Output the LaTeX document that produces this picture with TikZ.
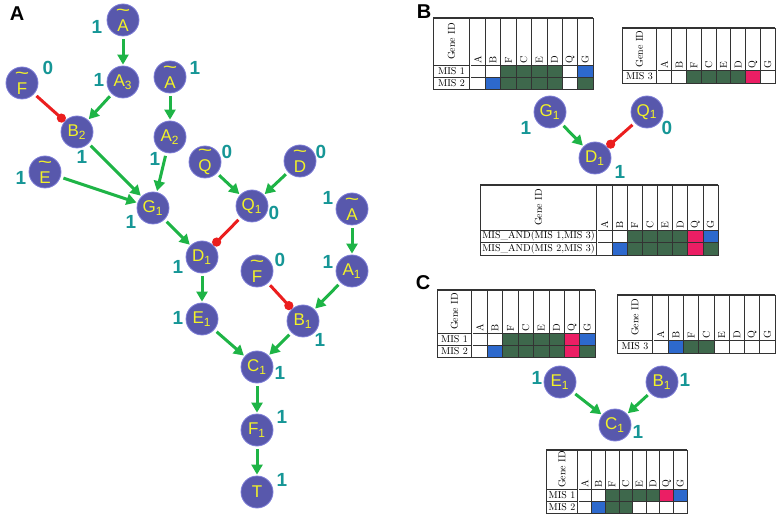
\documentclass[tikz,border=0pt]{standalone}
\usepackage{fontspec}
\setsansfont{Liberation Sans}
\newfontfamily\tabfont{lmroman10-regular}[Extension=.otf]
\usepackage{graphicx}
\usepackage{tikz}
\usetikzlibrary{arrows.meta}

\definecolor{genefill}{RGB}{88,88,172}
\definecolor{geneedge}{RGB}{125,125,215}
\definecolor{genetext}{RGB}{242,242,40}
\definecolor{valteal}{RGB}{22,150,150}
\definecolor{actgreen}{RGB}{30,180,70}
\definecolor{inhred}{RGB}{235,30,30}
\definecolor{tw}{RGB}{255,255,255}
\definecolor{tg}{RGB}{62,104,76}
\definecolor{tb}{RGB}{45,105,205}
\definecolor{tr}{RGB}{235,30,100}

\newsavebox{\tlbox}
\newcommand{\wtl}[1]{\sbox{\tlbox}{#1}\makebox[0pt][l]{\makebox[\wd\tlbox]{\raisebox{0.9em}{\scalebox{1.45}[1.1]{\textasciitilde}}}}\usebox{\tlbox}}
\newcommand{\andone}{MIS\_AND(MIS 1,MIS 3)}
\newcommand{\andtwo}{MIS\_AND(MIS 2,MIS 3)}

\tikzset{
	gene/.style={circle,fill=genefill,draw=geneedge,line width=0.4pt,minimum size=16pt,inner sep=0pt,text=genetext,font=\sffamily\fontsize{8.5}{9}\selectfont},
	val/.style={text=valteal,inner sep=0pt,font=\sffamily\bfseries\fontsize{9.5}{10}\selectfont},
	act/.style={draw=actgreen,line width=1.5pt,-{Triangle[length=5pt,width=5.5pt]},shorten <=1.5pt,shorten >=0.5pt},
	inh/.style={draw=inhred,line width=1.5pt,-{Circle[length=4.5pt]},shorten <=1.5pt},
	panel/.style={inner sep=0pt,font=\sffamily\bfseries\fontsize{10}{11}\selectfont},
	tabline/.style={draw=black!80,line width=0.3pt},
	tabtop/.style={draw=black!80,line width=0.9pt},
	idsep/.style={draw=black!80,line width=0.3pt,double,double distance=0.5pt},
	geneid/.style={rotate=90,inner sep=0pt,font=\tabfont\fontsize{5}{6}\selectfont},
	colid/.style={rotate=90,anchor=west,inner sep=0pt,font=\tabfont\fontsize{5}{6}\selectfont},
	rowid/.style={inner sep=0pt,font=\tabfont\fontsize{5}{6}\selectfont}
}

\newcommand{\misgrid}[8]{%
	\pgfmathsetmacro{\colw}{(#6-#4)/8}
	\draw[tabline] (#2,#3) rectangle (#6,#5);
	\node[geneid] (#1-id) at ({(#2+#4)/2},{(#3+#5)/2}) {Gene ID};
	\foreach \g [count=\i] in {A,B,F,C,E,D,Q,G} {
		\draw[tabline] ({#4+\i*\colw},#3) -- ({#4+\i*\colw},#5);
		\node[colid] (#1-\g) at ({#4+(\i-0.5)*\colw},{#5-1.5}) {\g};
	}
	\foreach \lab/\cols [count=\r] in {#8} {
		\draw[tabline] (#2,{#5+(\r-1)*#7}) rectangle (#4,{#5+\r*#7});
		\node[rowid] (#1-r\r) at ({(#2+#4)/2},{#5+(\r-0.5)*#7}) {\lab};
		\foreach \c [count=\i] in \cols
			\draw[tabline,fill=\c] ({#4+(\i-1)*\colw},{#5+(\r-1)*#7}) rectangle ++(\colw,#7);
		\draw[idsep] (#4,{#5+(\r-1)*#7}) -- (#4,{#5+\r*#7});
	}
	\draw[idsep] (#4,#3) -- (#4,#5);
	\draw[tabtop] (#2,#3) -- (#6,#3);
}

\begin{document}
\begin{tikzpicture}[x=0.5pt,y=-0.5pt]
		\useasboundingbox (0,0) rectangle (780,517);
		% A
		\node[panel] (labA) at (17,14) {A};
		\node[gene] (At1) at (123,20) {\wtl{A}};
		\node[gene] (A3) at (123,82) {A\textsubscript{3}};
		\node[gene] (Ft1) at (22,83) {\wtl{F}};
		\node[gene] (B2) at (77,132) {B\textsubscript{2}};
		\node[gene] (At2) at (170,77) {\wtl{A}};
		\node[gene] (A2) at (170,137) {A\textsubscript{2}};
		\node[gene] (Et) at (45,172) {\wtl{E}};
		\node[gene] (G1) at (153,208) {G\textsubscript{1}};
		\node[gene] (Qt) at (205,162) {\wtl{Q}};
		\node[gene] (Dt) at (300,161) {\wtl{D}};
		\node[gene] (Q1) at (252,206) {Q\textsubscript{1}};
		\node[gene] (At3) at (352,209) {\wtl{A}};
		\node[gene] (D1) at (202,257) {D\textsubscript{1}};
		\node[gene] (Ft2) at (257,271) {\wtl{F}};
		\node[gene] (A1) at (352,271) {A\textsubscript{1}};
		\node[gene] (E1) at (202,319) {E\textsubscript{1}};
		\node[gene] (B1) at (303,321) {B\textsubscript{1}};
		\node[gene] (C1) at (257,367) {C\textsubscript{1}};
		\node[gene] (F1) at (257,430) {F\textsubscript{1}};
		\node[gene] (T) at (257,492) {T};
		\node[val] (vAt1) at (97,27) {1};
		\node[val] (vA3) at (99,80) {1};
		\node[val] (vFt1) at (48,68) {0};
		\node[val] (vB2) at (82,157) {1};
		\node[val] (vAt2) at (195,68) {1};
		\node[val] (vA2) at (155,159) {1};
		\node[val] (vEt) at (21,178) {1};
		\node[val] (vG1) at (131,222) {1};
		\node[val] (vQt) at (227,152) {0};
		\node[val] (vDt) at (321,152) {0};
		\node[val] (vQ1) at (274,213) {0};
		\node[val] (vAt3) at (328,198) {1};
		\node[val] (vD1) at (178,267) {1};
		\node[val] (vFt2) at (280,260) {0};
		\node[val] (vA1) at (328,262) {1};
		\node[val] (vE1) at (178,318) {1};
		\node[val] (vB1) at (320,340) {1};
		\node[val] (vC1) at (280,373) {1};
		\node[val] (vF1) at (282,417) {1};
		\node[val] (vT) at (282,480) {1};
		\draw[act] (At1) -- (A3);
		\draw[act] (A3) -- (B2);
		\draw[inh] (Ft1) -- (B2);
		\draw[act] (At2) -- (A2);
		\draw[act] (A2) -- (G1);
		\draw[act] (B2) -- (G1);
		\draw[act] (Et) -- (G1);
		\draw[act] (Qt) -- (Q1);
		\draw[act] (Dt) -- (Q1);
		\draw[act] (G1) -- (D1);
		\draw[inh] (Q1) -- (D1);
		\draw[act] (D1) -- (E1);
		\draw[act] (At3) -- (A1);
		\draw[act] (A1) -- (B1);
		\draw[inh] (Ft2) -- (B1);
		\draw[act] (E1) -- (C1);
		\draw[act] (B1) -- (C1);
		\draw[act] (C1) -- (F1);
		\draw[act] (F1) -- (T);
		% B
		\node[panel] (labB) at (424,12) {B};
		\misgrid{tb1}{433}{18}{470}{65}{593}{12}{MIS 1/{tw,tw,tg,tg,tg,tg,tw,tb},MIS 2/{tw,tb,tg,tg,tg,tg,tw,tg}}
		\misgrid{tb2}{622}{28}{657}{70}{775}{13}{MIS 3/{tw,tw,tg,tg,tg,tg,tr,tw}}
		\node[gene] (G1b) at (550,112) {G\textsubscript{1}};
		\node[gene] (Q1b) at (647,112) {Q\textsubscript{1}};
		\node[gene] (D1b) at (595,158) {D\textsubscript{1}};
		\node[val] (vG1b) at (526,128) {1};
		\node[val] (vQ1b) at (667,128) {0};
		\node[val] (vD1b) at (620,172) {1};
		\draw[act] (G1b) -- (D1b);
		\draw[inh] (Q1b) -- (D1b);
		\misgrid{tb3}{480}{185}{597}{230}{718}{12.5}{\andone/{tw,tw,tg,tg,tg,tg,tr,tb},\andtwo/{tw,tb,tg,tg,tg,tg,tr,tg}}
		% C
		\node[panel] (labC) at (423,283) {C};
		\misgrid{tc1}{437}{290}{472}{333}{595}{12}{MIS 1/{tw,tw,tg,tg,tg,tg,tr,tb},MIS 2/{tw,tb,tg,tg,tg,tg,tr,tg}}
		\misgrid{tc2}{617}{295}{653}{340}{775}{13}{MIS 3/{tw,tb,tg,tg,tw,tw,tw,tw}}
		\node[gene] (E1c) at (560,382) {E\textsubscript{1}};
		\node[gene] (B1c) at (662,382) {B\textsubscript{1}};
		\node[gene] (C1c) at (615,425) {C\textsubscript{1}};
		\node[val] (vE1c) at (537,378) {1};
		\node[val] (vB1c) at (685,380) {1};
		\node[val] (vC1c) at (638,432) {1};
		\draw[act] (E1c) -- (C1c);
		\draw[act] (B1c) -- (C1c);
		\misgrid{tc3}{546}{450}{578}{489}{687}{12}{MIS 1/{tw,tw,tg,tg,tg,tg,tr,tb},MIS 2/{tw,tb,tg,tg,tw,tw,tw,tw}}
\end{tikzpicture}
\end{document}
